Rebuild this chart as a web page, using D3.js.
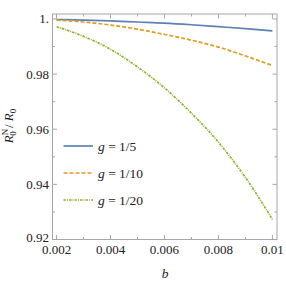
<!DOCTYPE html>
<html><head><meta charset="utf-8">
<script src="https://cdn.jsdelivr.net/npm/d3@7"></script>
<style>body{margin:0;background:#fff}svg{display:block}text{font-family:"Liberation Serif","DejaVu Serif",serif;fill:#222}</style>
</head><body><svg id="c" width="286" height="284"></svg>
<script>
const bValues = [0.002,0.003,0.004,0.005,0.006,0.007,0.008,0.009,0.010];
const seriesG5  = [0.9998,0.9996,0.9993,0.9989,0.9985,0.9979,0.9972,0.9965,0.9957];
const seriesG10 = [0.9996,0.9989,0.9978,0.9963,0.9944,0.9923,0.9898,0.9866,0.9831];
const seriesG20 = [0.9972,0.9937,0.9890,0.9826,0.9750,0.9658,0.9553,0.9425,0.9273];
const seriesNames = ["1/5","1/10","1/20"];
const seriesColors = ["#5E81B5","#E19C24","#8FB032"];
const seriesDash = [null,"4,2","2.5,1,1,1"];
const xMajor = [0.002,0.004,0.006,0.008,0.01];
const xMajorLabels = ["0.002","0.004","0.006","0.008","0.01"];
const xMinor = [0.003,0.005,0.007,0.009];
const yMajor = [0.92,0.94,0.96,0.98,1.0];
const yMajorLabels = ["0.92","0.94","0.96","0.98","1."];
const yMinor = [0.93,0.95,0.97,0.99];

const FONT = "'Liberation Serif','DejaVu Serif',serif";
const svg = d3.select("#c");
const L=52.5,R=277,T=14,B=239.5;
const x = d3.scaleLinear().domain([0.00185,0.01017]).range([L,R]);
const y = d3.scaleLinear().domain([0.92,1.0018]).range([B,T]);
const frame="#a6a6a6";

const g = svg.append("g").attr("font-family",FONT);
const all=[seriesG5,seriesG10,seriesG20];
const line = d3.line().x((d,i)=>x(bValues[i])).y(d=>y(d)).curve(d3.curveMonotoneX);
svg.append("clipPath").attr("id","cp").append("rect").attr("x",L).attr("y",T).attr("width",R-L).attr("height",B-T);
all.forEach((s,k)=>{
  g.append("path").attr("d",line(s)).attr("fill","none").attr("stroke",seriesColors[k])
   .attr("stroke-width",1.7).attr("stroke-dasharray",seriesDash[k]).attr("clip-path","url(#cp)");
});
g.append("rect").attr("x",L).attr("y",T).attr("width",R-L).attr("height",B-T).attr("fill","none").attr("stroke",frame).attr("stroke-width",1);
function xt(vals,len){vals.forEach(v=>{const px=x(v);
  g.append("line").attr("x1",px).attr("x2",px).attr("y1",B).attr("y2",B-len).attr("stroke",frame);
  g.append("line").attr("x1",px).attr("x2",px).attr("y1",T).attr("y2",T+len).attr("stroke",frame);});}
function yt(vals,len){vals.forEach(v=>{const py=y(v);
  g.append("line").attr("y1",py).attr("y2",py).attr("x1",L).attr("x2",L+len).attr("stroke",frame);
  g.append("line").attr("y1",py).attr("y2",py).attr("x1",R).attr("x2",R-len).attr("stroke",frame);});}
xt(xMajor,4.5);xt(xMinor,2.5);yt(yMajor,4.5);yt(yMinor,2.5);
xMajor.forEach((v,i)=>g.append("text").attr("font-family",FONT).attr("x",x(v)).attr("y",254).attr("text-anchor","middle").attr("font-size",13).text(xMajorLabels[i]));
yMajor.forEach((v,i)=>g.append("text").attr("font-family",FONT).attr("x",49).attr("y",i===0?242:y(v)+4.5).attr("text-anchor","end").attr("font-size",13).text(yMajorLabels[i]));
g.append("text").attr("font-family",FONT).attr("x",165).attr("y",278).attr("text-anchor","middle").attr("font-size",13.5).attr("font-style","italic").text("b");
const yl = g.append("text").attr("font-family",FONT).attr("transform","translate(13,126) rotate(-90)").attr("text-anchor","middle").attr("font-size",13);
yl.append("tspan").attr("font-style","italic").text("R");
yl.append("tspan").attr("font-size",9).attr("dy",-5).text("N");
yl.append("tspan").attr("font-size",9).attr("dx",-7).attr("dy",8).text("0");
yl.append("tspan").attr("dy",-3).text(" / ");
yl.append("tspan").attr("font-style","italic").text("R");
yl.append("tspan").attr("font-size",9).attr("dy",3).text("0");
seriesNames.forEach((n,k)=>{
  const ly=146+k*27;
  g.append("line").attr("x1",63.5).attr("x2",93).attr("y1",ly).attr("y2",ly).attr("stroke",seriesColors[k]).attr("stroke-width",1.7).attr("stroke-dasharray",seriesDash[k]);
  const t=g.append("text").attr("font-family",FONT).attr("x",98).attr("y",ly+4.5).attr("font-size",13.5);
  t.append("tspan").attr("font-style","italic").text("g");
  t.append("tspan").text(" = "+n);
});
</script></body></html>
